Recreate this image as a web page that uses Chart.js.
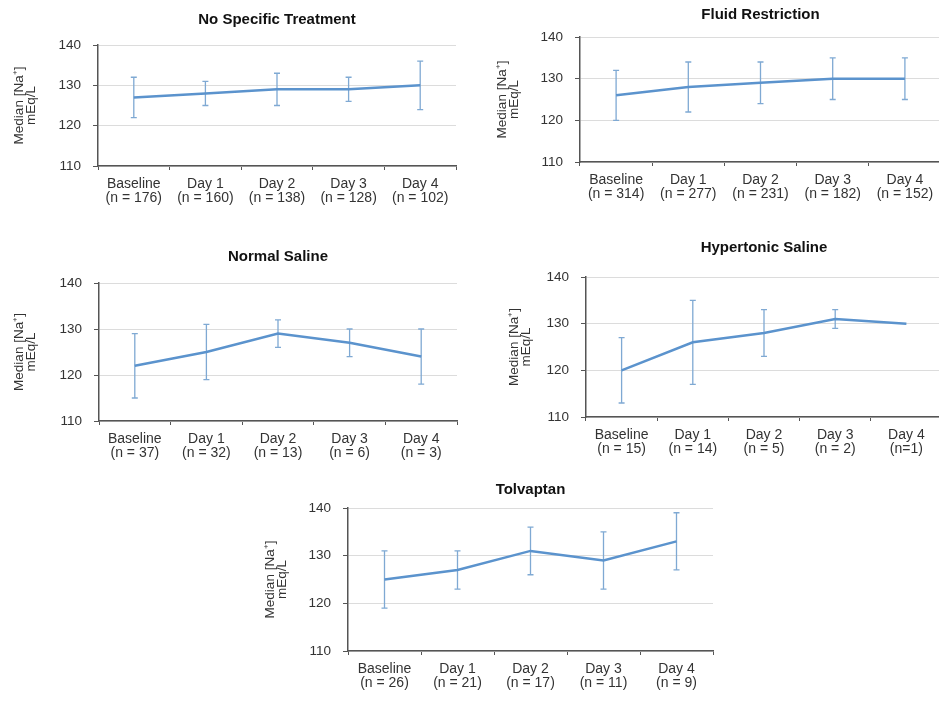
<!DOCTYPE html>
<html>
<head>
<meta charset="utf-8">
<script src="https://cdn.jsdelivr.net/npm/chart.js@4.4.0/dist/chart.umd.min.js"></script>
<style>
  html, body { margin: 0; padding: 0; background: #fff; width: 939px; height: 702px; overflow: hidden; position: relative; }
  canvas { position: absolute; }
</style>
</head>
<body>
<canvas id="c1"></canvas>
<canvas id="c2"></canvas>
<canvas id="c3"></canvas>
<canvas id="c4"></canvas>
<canvas id="c5"></canvas>
<script>
// categories and y ticks shared by every panel
const dayLabels = ['Baseline', 'Day 1', 'Day 2', 'Day 3', 'Day 4'];
const yTicks = [110, 120, 130, 140];

// No Specific Treatment
const noTreatN = ['(n = 176)', '(n = 160)', '(n = 138)', '(n = 128)', '(n = 102)'];
const noTreatMedian = [127, 128, 129, 129, 130];
const noTreatLow = [122, 125, 125, 126, 124];
const noTreatHigh = [132, 131, 133, 132, 136];

// Fluid Restriction
const fluidN = ['(n = 314)', '(n = 277)', '(n = 231)', '(n = 182)', '(n = 152)'];
const fluidMedian = [126, 128, 129, 130, 130];
const fluidLow = [120, 122, 124, 125, 125];
const fluidHigh = [132, 134, 134, 135, 135];

// Normal Saline
const normalN = ['(n = 37)', '(n = 32)', '(n = 13)', '(n = 6)', '(n = 3)'];
const normalMedian = [122, 125, 129, 127, 124];
const normalLow = [115, 119, 126, 124, 118];
const normalHigh = [129, 131, 132, 130, 130];

// Hypertonic Saline (Day 4 has a single patient, no range)
const hyperN = ['(n = 15)', '(n = 14)', '(n = 5)', '(n = 2)', '(n=1)'];
const hyperMedian = [120, 126, 128, 131, 130];
const hyperLow = [113, 117, 123, 129, null];
const hyperHigh = [127, 135, 133, 133, null];

// Tolvaptan
const tolvN = ['(n = 26)', '(n = 21)', '(n = 17)', '(n = 11)', '(n = 9)'];
const tolvMedian = [125, 127, 131, 129, 133];
const tolvLow = [119, 123, 126, 123, 127];
const tolvHigh = [131, 131, 136, 135, 139];

Chart.defaults.font.family = "'Liberation Sans', Arial, sans-serif";

// draws the min/max whiskers with the chart's own scales
const errorBars = {
  id: 'errorBars',
  beforeDatasetsDraw(chart) {
    const ds = chart.data.datasets[0];
    const x = chart.scales.x, y = chart.scales.y;
    const ctx = chart.ctx;
    ctx.save();
    ctx.strokeStyle = '#7fa9d3';
    ctx.lineWidth = 1.3;
    ds.low.forEach((lo, i) => {
      const hi = ds.high[i];
      if (lo == null || hi == null) return;
      const px = x.getPixelForValue(i);
      const y1 = y.getPixelForValue(lo), y2 = y.getPixelForValue(hi);
      ctx.beginPath();
      ctx.moveTo(px, y1); ctx.lineTo(px, y2);
      ctx.moveTo(px - 3, y1); ctx.lineTo(px + 3, y1);
      ctx.moveTo(px - 3, y2); ctx.lineTo(px + 3, y2);
      ctx.stroke();
    });
    ctx.restore();
  }
};

function makePanel(id, title, nLabels, median, low, high, box) {
  const Y_W = 95, X_H = 45;
  const left = box.L - Y_W;
  const top = Math.round(box.titleY) - 10;
  const cv = document.getElementById(id);
  cv.width = Y_W + (box.R - box.L) + 2;
  cv.height = (box.B - top) + X_H;
  cv.style.left = left + 'px';
  cv.style.top = top + 'px';

  new Chart(cv, {
    type: 'line',
    data: {
      labels: dayLabels.map((d, i) => [d, nLabels[i]]),
      datasets: [{
        data: median,
        low: low,
        high: high,
        borderColor: '#5b93cd',
        borderWidth: 2.5,
        pointRadius: 0,
        tension: 0,
        fill: false
      }]
    },
    options: {
      responsive: false,
      animation: false,
      devicePixelRatio: 1,
      layout: { padding: { left: 0, right: 2, top: 0, bottom: 0 } },
      plugins: {
        legend: { display: false },
        tooltip: { enabled: false },
        title: {
          display: true,
          text: title,
          fullSize: false,
          color: '#111',
          font: { size: 15, weight: 'bold', lineHeight: 1.2 },
          padding: { top: 1, bottom: box.T - top - 19 }
        }
      },
      scales: {
        x: {
          offset: true,
          grid: { offset: true, drawOnChartArea: false, drawTicks: true, tickLength: 4, tickColor: '#555' },
          border: { color: '#555', width: 1.5 },
          ticks: { color: '#333', font: { size: 14, lineHeight: 0.96 }, padding: 7.8, maxRotation: 0, autoSkip: false },
          afterFit: s => { s.height = X_H; s.paddingLeft = 0; s.paddingRight = 0; }
        },
        y: {
          min: 110,
          max: 140,
          afterBuildTicks: s => { s.ticks = yTicks.map(v => ({ value: v })); },
          grid: { color: '#dcdcdc', tickColor: '#555', tickLength: 5 },
          border: { color: '#555', width: 1.5 },
          ticks: { color: '#333', font: { size: 13.5 }, padding: 12 },
          title: {
            display: true,
            text: ['Median [Na\u207A]', 'mEq/L'],
            color: '#333',
            font: { size: 13.5, lineHeight: 0.88 },
            padding: { top: Y_W - box.yt - 5.9, bottom: 0 }
          },
          afterFit: s => { s.width = Y_W; }
        }
      }
    },
    plugins: [errorBars]
  });
}

makePanel('c1', 'No Specific Treatment', noTreatN, noTreatMedian, noTreatLow, noTreatHigh,
  { L: 98, T: 45, R: 456, B: 166, titleY: 19.5, yt: 78.5 });
makePanel('c2', 'Fluid Restriction', fluidN, fluidMedian, fluidLow, fluidHigh,
  { L: 580, T: 37, R: 941, B: 162, titleY: 15.3, yt: 77.5 });
makePanel('c3', 'Normal Saline', normalN, normalMedian, normalLow, normalHigh,
  { L: 99, T: 283, R: 457, B: 421, titleY: 256.7, yt: 80 });
makePanel('c4', 'Hypertonic Saline', hyperN, hyperMedian, hyperLow, hyperHigh,
  { L: 586, T: 277, R: 942, B: 417, titleY: 248, yt: 71.5 });
makePanel('c5', 'Tolvaptan', tolvN, tolvMedian, tolvLow, tolvHigh,
  { L: 348, T: 508, R: 713, B: 651, titleY: 490, yt: 77.5 });
</script>
</body>
</html>
